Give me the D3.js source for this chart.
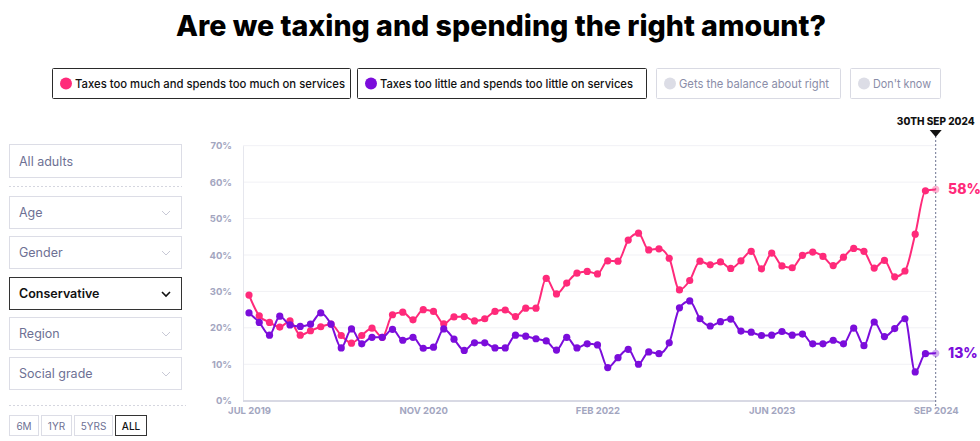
<!DOCTYPE html>
<html>
<head>
<meta charset="utf-8">
<script src="https://cdn.jsdelivr.net/npm/d3@7"></script>
<style>
  html, body { margin: 0; padding: 0; background: #fff; }
  svg { display: block; }
  text { font-family: Inter, "Noto Sans", sans-serif; }
</style>
</head>
<body>
<svg id="chart" width="980" height="441"></svg>
<script>
// ---------- DATA ----------
const title = "Are we taxing and spending the right amount?";
const seriesNames = [
  "Taxes too much and spends too much on services",
  "Taxes too little and spends too little on services",
  "Gets the balance about right",
  "Don't know"
];
const dates = [
  "2019-07-15","2019-08-12","2019-09-09","2019-10-08","2019-11-05","2019-12-03","2019-12-31","2020-01-28","2020-02-26","2020-03-25",
  "2020-04-22","2020-05-20","2020-06-18","2020-07-16","2020-08-13","2020-09-11","2020-10-09","2020-11-06","2020-12-03","2020-12-31",
  "2021-01-27","2021-02-23","2021-03-23","2021-04-19","2021-05-17","2021-06-13","2021-07-11","2021-08-07","2021-09-03","2021-10-01",
  "2021-10-28","2021-11-24","2021-12-22","2022-01-18","2022-02-14","2022-03-14","2022-04-11","2022-05-10","2022-06-07","2022-07-05",
  "2022-08-02","2022-08-31","2022-09-28","2022-10-26","2022-11-23","2022-12-21","2023-01-18","2023-02-16","2023-03-16","2023-04-14",
  "2023-05-12","2023-06-12","2023-07-12","2023-08-10","2023-09-08","2023-10-08","2023-11-06","2023-12-06","2024-01-04","2024-02-03",
  "2024-03-04","2024-04-02","2024-05-02","2024-05-31","2024-06-30","2024-07-30","2024-08-29","2024-09-30"
];
const tooMuch = [
  29.0, 23.3, 21.5, 20.2, 21.9, 18.0, 19.2, 20.3, 21.0, 17.9,
  15.8, 17.9, 19.9, 17.4, 23.6, 24.3, 22.2, 25.0, 24.5, 21.1,
  23.0, 23.1, 21.9, 22.5, 24.5, 24.9, 23.1, 25.4, 25.4, 33.6,
  29.3, 32.3, 35.0, 35.5, 34.8, 38.4, 38.3, 44.1, 46.0, 41.4,
  41.7, 39.1, 30.4, 33.0, 38.3, 37.3, 38.1, 36.3, 38.4, 41.0,
  36.2, 40.5, 37.0, 36.5, 39.9, 40.8, 39.6, 37.1, 39.4, 41.8,
  41.0, 36.4, 38.5, 34.0, 35.6, 45.7, 57.6, 58.0
];
const tooLittle = [
  24.1, 21.5, 18.0, 23.2, 20.8, 20.4, 21.0, 24.1, 21.0, 14.5,
  19.7, 15.6, 17.4, 17.4, 19.6, 16.6, 17.4, 14.4, 14.7, 19.7,
  16.9, 13.8, 15.9, 15.9, 14.5, 14.5, 18.0, 17.7, 17.0, 16.4,
  13.9, 17.4, 14.5, 15.6, 15.3, 9.1, 11.8, 14.1, 10.0, 13.4,
  12.9, 15.9, 25.5, 27.4, 22.5, 20.5, 21.7, 22.4, 19.1, 18.8,
  17.9, 18.0, 19.0, 18.0, 18.3, 15.6, 15.6, 16.6, 15.6, 19.9,
  15.1, 21.6, 17.6, 19.8, 22.5, 7.9, 12.9, 13.0
];
const yTicks = [0, 10, 20, 30, 40, 50, 60, 70];
const xTickIndex = [0, 17, 34, 51, 67];
const xTickLabels = ["JUL 2019", "NOV 2020", "FEB 2022", "JUN 2023", "SEP 2024"];
const markerLabel = "30TH SEP 2024";
const filterLabels = ["Age", "Gender", "Conservative", "Region", "Social grade"];
const rangeLabels = ["6M", "1YR", "5YRS", "ALL"];

// ---------- STYLE ----------
const PINK = "#ff2a7a";
const PURPLE = "#7b0ddb";
const GREYTXT = "#6e7194";
const AXISTXT = "#a3a6bf";

const svg = d3.select("#chart");

// Title
svg.append("text")
  .attr("x", 501).attr("y", 36)
  .attr("text-anchor", "middle")
  .attr("font-size", 29).attr("font-weight", 800)
  .attr("fill", "#000")
  .attr("textLength", 650).attr("lengthAdjust", "spacingAndGlyphs")
  .text(title);

// Legend buttons
const legendBoxes = [
  {x: 52, w: 298, tw: 270, color: PINK, active: true},
  {x: 357, w: 289, tw: 253, color: PURPLE, active: true},
  {x: 656, w: 184, tw: 150, color: "#dcdde6", active: false},
  {x: 850, w: 90, tw: 58, color: "#dcdde6", active: false}
];
const lg = svg.append("g");
legendBoxes.forEach((b, i) => {
  const g = lg.append("g").attr("transform", `translate(${b.x},68)`);
  g.append("rect").attr("x", 0.5).attr("y", 0.5).attr("width", b.w).attr("height", 30)
    .attr("fill", "#fff")
    .attr("stroke", b.active ? "#2a2a2a" : "#d9dae3").attr("stroke-width", 1).attr("rx", 1);
  g.append("circle").attr("cx", 14).attr("cy", 15.5).attr("r", 6).attr("fill", b.color);
  g.append("text").attr("x", b.active ? 23 : 23).attr("y", 20)
    .attr("font-size", 12).attr("font-weight", b.active ? 500 : 400)
    .attr("fill", b.active ? "#111" : "#8a8da8")
    .attr("textLength", b.tw).attr("lengthAdjust", "spacingAndGlyphs")
    .text(seriesNames[i]);
});

// Left panel
const panel = svg.append("g");
function box(y, h, label, dark) {
  panel.append("rect").attr("x", 9.5).attr("y", y + 0.5).attr("width", 172).attr("height", h)
    .attr("fill", "#fff").attr("stroke", dark ? "#333" : "#dcdde6").attr("stroke-width", 1);
  panel.append("text").attr("x", 19).attr("y", y + h / 2 + 5)
    .attr("font-size", 12.5).attr("font-weight", dark ? 600 : 400)
    .attr("fill", dark ? "#111" : GREYTXT).text(label);
}
box(144, 33, "All adults", false);
panel.append("line").attr("x1", 9).attr("x2", 182).attr("y1", 186.5).attr("y2", 186.5)
  .attr("stroke", "#d5d6df").attr("stroke-dasharray", "2,2");
const fy = [196, 236, 277, 317, 357];
filterLabels.forEach((l, i) => {
  const dark = l === "Conservative";
  box(fy[i], 32, l, dark);
  const cx = 166, cy = fy[i] + 17;
  panel.append("path").attr("d", `M${cx - 4},${cy - 2} L${cx},${cy + 2} L${cx + 4},${cy - 2}`)
    .attr("fill", "none").attr("stroke", dark ? "#111" : "#c8c9d6").attr("stroke-width", dark ? 1.6 : 1);
});
panel.append("line").attr("x1", 9).attr("x2", 186).attr("y1", 405.5).attr("y2", 405.5)
  .attr("stroke", "#d5d6df").attr("stroke-dasharray", "2,2");
const rb = [{x: 9, w: 29}, {x: 41, w: 30}, {x: 74, w: 38}, {x: 115, w: 31}];
rangeLabels.forEach((l, i) => {
  const dark = l === "ALL";
  panel.append("rect").attr("x", rb[i].x + 0.5).attr("y", 415.5).attr("width", rb[i].w).attr("height", 20)
    .attr("fill", "#fff").attr("stroke", dark ? "#333" : "#dcdde6");
  panel.append("text").attr("x", rb[i].x + rb[i].w / 2 + 0.5).attr("y", 429.5)
    .attr("text-anchor", "middle").attr("font-size", 10).attr("font-weight", dark ? 500 : 400)
    .attr("fill", dark ? "#111" : GREYTXT).text(l);
});

// Chart
const x = d3.scalePoint().domain(d3.range(dates.length)).range([249, 935.7]);
const y = d3.scaleLinear().domain([0, 70]).range([400.7, 145.7]);

const chart = svg.append("g");

// gridlines
chart.append("g").selectAll("line").data(yTicks.filter(d => d > 0)).join("line")
  .attr("x1", 243).attr("x2", 936).attr("y1", d => y(d)).attr("y2", d => y(d))
  .attr("stroke", "#f1f1f5").attr("stroke-width", 1);

// y axis
const yAxis = d3.axisLeft(y).tickValues(yTicks).tickSize(0).tickPadding(11).tickFormat(d => d + "%");
const yg = chart.append("g").attr("transform", "translate(243,0)").call(yAxis);
yg.select(".domain").attr("stroke", "#e6e7ee").attr("stroke-width", 1);
yg.selectAll("text").attr("font-size", 9.5).attr("font-weight", 700).attr("fill", AXISTXT)
  .attr("font-family", "Inter, sans-serif");

// x axis
const xAxis = d3.axisBottom(x).tickValues(xTickIndex).tickSize(0).tickPadding(6)
  .tickFormat((d, i) => xTickLabels[i]);
const xg = chart.append("g").attr("transform", "translate(0,401)").call(xAxis);
xg.select(".domain").attr("d", "M243,0H936").attr("stroke", "#d8d9e4").attr("stroke-width", 2);
xg.selectAll("text").attr("font-size", 9.5).attr("font-weight", 700).attr("fill", AXISTXT)
  .attr("font-family", "Inter, sans-serif");

// marker line
const lastX = x(dates.length - 1);
chart.append("line").attr("x1", lastX).attr("x2", lastX).attr("y1", 136).attr("y2", 406)
  .attr("stroke", "#6d7390").attr("stroke-width", 1).attr("stroke-dasharray", "2,2");
chart.append("path").attr("d", `M${lastX - 6},130 L${lastX + 6},130 L${lastX},137 Z`).attr("fill", "#111");
chart.append("text").attr("x", lastX).attr("y", 125).attr("text-anchor", "middle")
  .attr("font-size", 10).attr("font-weight", 800).attr("fill", "#111").text(markerLabel);

// series
const series = [
  {values: tooMuch, color: PINK},
  {values: tooLittle, color: PURPLE}
];
const line = d3.line().x((d, i) => x(i)).y(d => y(d)).curve(d3.curveMonotoneX);
series.forEach(s => {
  chart.append("path").datum(s.values).attr("d", line)
    .attr("fill", "none").attr("stroke", s.color).attr("stroke-width", 2);
  chart.append("g").selectAll("circle").data(s.values.slice(0, -1)).join("circle")
    .attr("cx", (d, i) => x(i)).attr("cy", d => y(d)).attr("r", 3.6).attr("fill", s.color);
  const n = s.values.length - 1;
  chart.append("circle").attr("cx", x(n)).attr("cy", y(s.values[n])).attr("r", 3.6)
    .attr("fill", s.color).attr("fill-opacity", 0.35);
  chart.append("text").attr("x", 948).attr("y", y(s.values[n]) + 5)
    .attr("font-size", 14).attr("font-weight", 800).attr("fill", s.color)
    .text(Math.round(s.values[n]) + "%");
});
</script>
</body>
</html>
